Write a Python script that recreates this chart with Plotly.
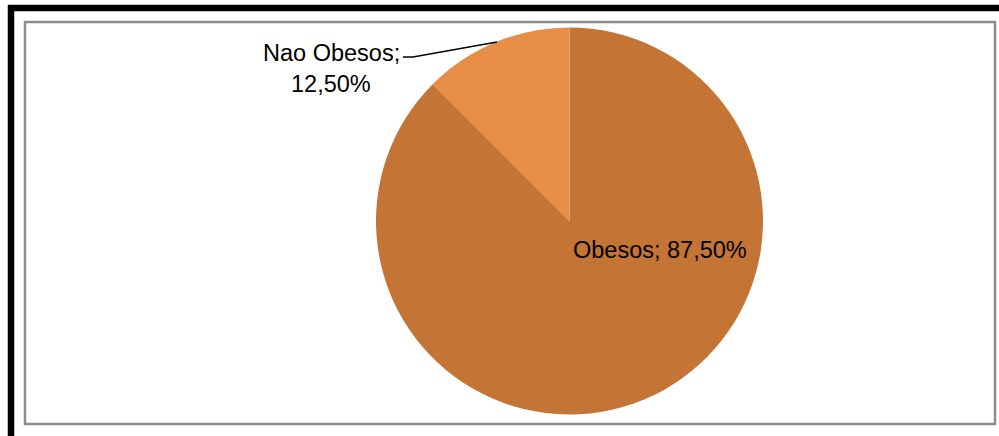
import plotly.graph_objects as go

# Data
categories = ["Nao Obesos", "Obesos"]
shares = [12.5, 87.5]
slice_colors = ["#E88D45", "#C47535"]

W, H = 999, 436


def fmt_pct(v):
    return f"{v:.2f}".replace(".", ",") + "%"


fig = go.Figure()

# Pie centred at (569.5, 221) px with radius ~193.5 px.
# Slices are fed in reverse so the small slice sits between 10:30 and 12 o'clock.
cx, cy, r = 569.5, 221.0, 193.5
fig.add_trace(go.Pie(
    labels=categories[::-1],
    values=shares[::-1],
    sort=False,
    direction="clockwise",
    rotation=0,
    marker=dict(colors=slice_colors[::-1], line=dict(width=0)),
    textinfo="none",
    hoverinfo="label+percent",
    showlegend=False,
    domain=dict(x=[(cx - r) / W, (cx + r) / W],
                y=[1 - (cy + r) / H, 1 - (cy - r) / H]),
))

font = dict(family="Liberation Sans, Arial, sans-serif", size=23.5, color="#000000")

# Data labels (pixel coordinates on a hidden overlay axis)
fig.add_annotation(x=331, y=53, text=f"{categories[0]};", showarrow=False,
                   xref="x", yref="y", font=font, xanchor="center", yanchor="middle")
fig.add_annotation(x=331, y=84, text=fmt_pct(shares[0]), showarrow=False,
                   xref="x", yref="y", font=font, xanchor="center", yanchor="middle")
fig.add_annotation(x=660, y=250, text=f"{categories[1]}; {fmt_pct(shares[1])}",
                   showarrow=False, xref="x", yref="y", font=font,
                   xanchor="center", yanchor="middle")

shapes = [
    # leader line for the small slice
    dict(type="path", path="M 403 57 L 413 57 L 497 42", xref="x", yref="y",
         line=dict(color="#000000", width=1.5)),
    # inner grey chart-area frame
    dict(type="rect", x0=25, y0=22, x1=995, y1=424, xref="x", yref="y",
         line=dict(color="#8C8C8C", width=2.5), fillcolor="rgba(0,0,0,0)"),
    # thick black outer frame (top and left)
    dict(type="line", x0=8, y0=8, x1=W + 5, y1=8, xref="x", yref="y",
         line=dict(color="#000000", width=6.5)),
    dict(type="line", x0=11, y0=5, x1=11, y1=H + 5, xref="x", yref="y",
         line=dict(color="#000000", width=6.5)),
]

fig.update_layout(
    width=W, height=H,
    margin=dict(l=0, r=0, t=0, b=0),
    paper_bgcolor="#FFFFFF",
    plot_bgcolor="rgba(0,0,0,0)",
    xaxis=dict(range=[0, W], visible=False, fixedrange=True),
    yaxis=dict(range=[H, 0], visible=False, fixedrange=True),
    shapes=shapes,
)

fig.write_html("out.html")
